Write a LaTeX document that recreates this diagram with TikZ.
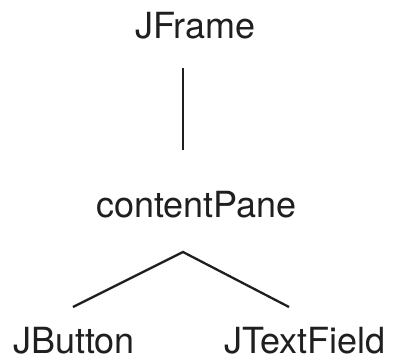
\documentclass[tikz,border=0pt]{standalone}
\usepackage{fontspec}
\setmainfont{TeX Gyre Heros}
\begin{document}
\begin{tikzpicture}[x=1pt,y=-1pt,
  lbl/.style={anchor=base west,inner sep=0pt,outer sep=0pt,text=black!88,font=\fontsize{36}{40}\selectfont},
  edge/.style={line width=2.3pt,draw=black!88}]
\useasboundingbox (0,0) rectangle (394,360);
\node[lbl] (jframe) at (135,38) {JFrame};
\node[lbl] (content) at (96,217) {contentPane};
\node[lbl] (jbutton) at (13,353) {JButton};
\node[lbl] (jtext) at (224,353) {JTextField};
\coordinate (a1) at (183,68);
\coordinate (a2) at (183,150);
\coordinate (apex) at (183,252);
\coordinate (bl) at (73,307);
\coordinate (br) at (289,307);
\draw[edge] (a1) -- (a2);
\draw[edge] (bl) -- (apex) -- (br);
\end{tikzpicture}
\end{document}
